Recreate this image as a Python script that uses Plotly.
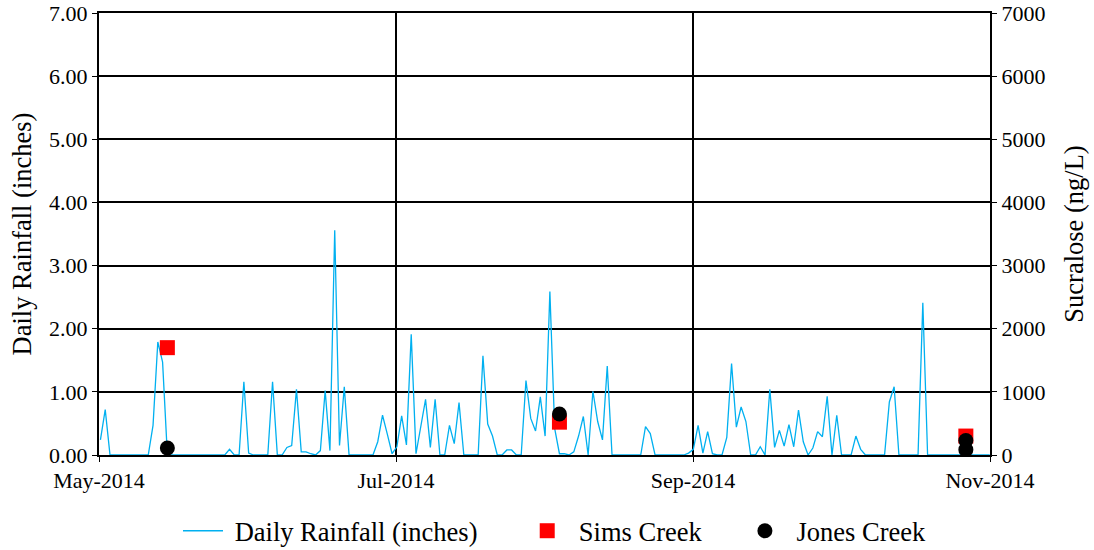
import plotly.graph_objects as go

# Day offsets from 1 May 2014 (one reading per day)
rainfall_in = [
    0.24, 0.72, 0, 0, 0, 0, 0, 0, 0, 0, 0,
    0.47, 1.79, 1.47, 0,
    0, 0, 0, 0, 0, 0, 0, 0, 0, 0, 0, 0,
    0.09, 0, 0, 1.16, 0.03, 0, 0, 0, 0,
    1.16, 0, 0, 0.12, 0.15, 1.04, 0.05, 0.05, 0.02, 0, 0.07, 1.02, 0.07, 3.56, 0.15, 1.08,
    0, 0, 0, 0, 0, 0,
    0.21, 0.63, 0.33, 0.02, 0.13, 0.62, 0.16, 1.91, 0.02, 0.45, 0.88, 0.12, 0.88, 0, 0,
    0.47, 0.18, 0.83, 0, 0, 0, 0,
    1.57, 0.49, 0.30, 0, 0, 0.08, 0.08, 0, 0,
    1.18, 0.58, 0.38, 0.92, 0.30, 2.59, 0.42, 0.02, 0.02, 0, 0.05, 0.30, 0.61, 0,
    1.01, 0.53, 0.24, 1.41,
    0, 0, 0, 0, 0, 0, 0,
    0.45, 0.34,
    0, 0, 0, 0, 0, 0, 0,
    0.03, 0.09, 0.47, 0.03, 0.37, 0.02, 0, 0, 0.28, 1.45, 0.44, 0.76, 0.53, 0, 0,
    0.13, 0, 1.04, 0.12, 0.39, 0.14, 0.48, 0.13, 0.71, 0.21, 0, 0.11, 0.37, 0.29, 0.93, 0,
    0.63, 0, 0, 0, 0.30, 0.09,
    0, 0, 0, 0, 0,
    0.84, 1.08,
    0, 0, 0, 0, 0,
    2.41,
    0, 0, 0, 0, 0, 0, 0, 0, 0, 0, 0, 0, 0, 0,
]
rain_days = list(range(len(rainfall_in)))

sims_days = [14, 96, 181]
sims_ngL = [1700, 520, 300]
jones_days = [14, 96, 181, 181]
jones_ngL = [110, 650, 230, 85]

x_range = [-0.3, 186.05]
tick_labels = ["May-2014", "Jul-2014", "Sep-2014", "Nov-2014"]
tick_pos = [x_range[0] + (x_range[1] - x_range[0]) * i / 3 for i in range(4)]

FONT = "Liberation Serif, Times New Roman, serif"
NB = "\u00a0"

fig = go.Figure()
fig.add_trace(go.Scatter(
    x=rain_days, y=rainfall_in, mode="lines",
    name=NB + "Daily Rainfall (inches)" + NB * 6,
    line=dict(color="#00B0F0", width=1.3), yaxis="y",
))
fig.add_trace(go.Scatter(
    x=sims_days, y=sims_ngL, mode="markers",
    name=NB + "Sims Creek" + NB * 5,
    marker=dict(symbol="square", size=15, color="#FF0000"), yaxis="y2",
))
fig.add_trace(go.Scatter(
    x=jones_days, y=jones_ngL, mode="markers",
    name=NB + "Jones Creek",
    marker=dict(symbol="circle", size=15, color="#000000"), yaxis="y2",
))

axis_common = dict(
    showline=True, linecolor="black", linewidth=2,
    ticks="outside", ticklen=5, tickcolor="black", zeroline=False,
    tickfont=dict(size=22), automargin=False,
)

fig.update_layout(
    width=1094, height=550,
    margin=dict(l=99, r=104, t=13, b=95),
    paper_bgcolor="white", plot_bgcolor="white",
    font=dict(family=FONT, size=22, color="black"),
    showlegend=True,
    legend=dict(orientation="h", xref="container", x=178 / 1094, xanchor="left",
                yref="container", y=1 - 531 / 550, yanchor="middle",
                font=dict(size=26.5), itemwidth=40, traceorder="normal"),
    xaxis=dict(
        range=x_range, tickvals=tick_pos, ticktext=tick_labels,
        showgrid=True, gridcolor="black", gridwidth=2, mirror=True,
        **axis_common,
    ),
    yaxis=dict(
        range=[0, 7], dtick=1, tickformat=".2f",
        showgrid=True, gridcolor="black", gridwidth=2,
        title=dict(text="Daily Rainfall (inches)", font=dict(size=26.5), standoff=10),
        **axis_common,
    ),
    yaxis2=dict(
        range=[0, 7000], dtick=1000, overlaying="y", side="right",
        showgrid=False,
        title=dict(text="Sucralose (ng/L)", font=dict(size=26.5), standoff=20),
        **axis_common,
    ),
)

fig.write_html("out.html")
